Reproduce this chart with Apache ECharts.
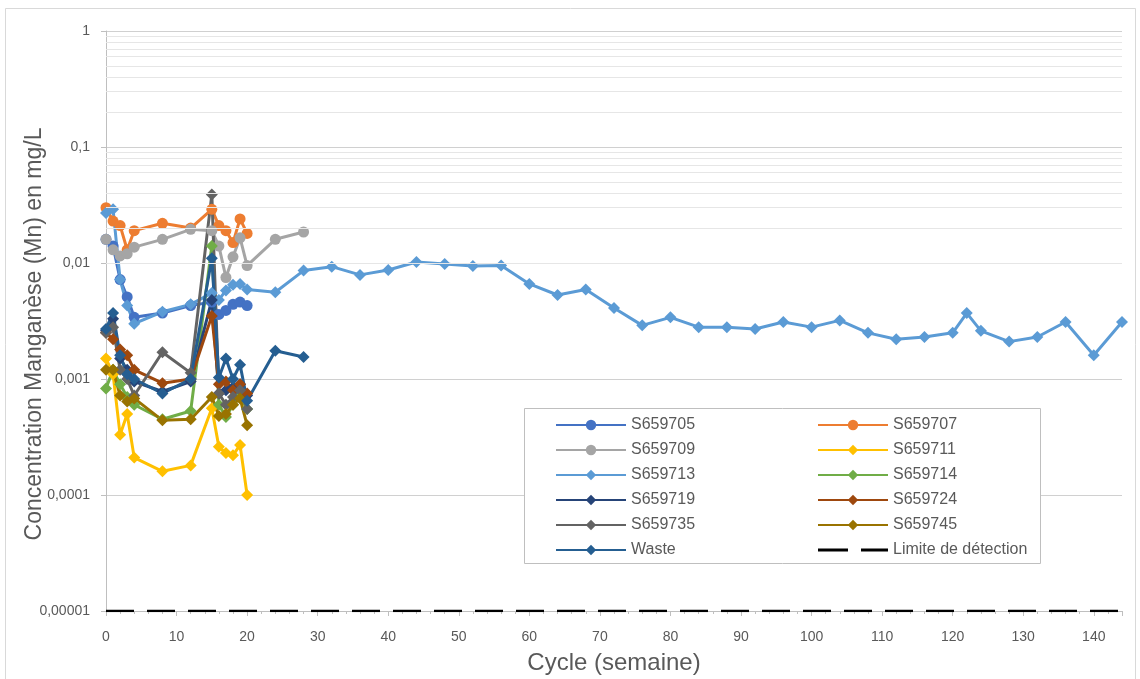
<!DOCTYPE html>
<html>
<head>
<meta charset="utf-8">
<script src="https://cdn.jsdelivr.net/npm/echarts@6/dist/echarts.min.js"></script>
<style>
  html, body { margin: 0; padding: 0; background: #fff; }
  #chart { width: 1140px; height: 679px; }
</style>
</head>
<body>
<div id="chart"></div>
<script>
// Sampling weeks (cycles)
const cyclesEarly = [0, 1, 2, 3, 4, 8, 12, 15, 16, 17, 18, 19, 20];
const cyclesTo28 = cyclesEarly.concat([24, 28]);
const cyclesLong = cyclesTo28.concat([32, 36, 40, 44, 48, 52, 56, 60, 64, 68, 72, 76, 80, 84, 88, 92, 96, 100, 104, 108, 112, 116, 120, 122, 124, 128, 132, 136, 140, 144]);

// Manganese concentration (mg/L) per sample
const s659705 = [0.016, 0.014, 0.0072, 0.0051, 0.0034, 0.0037, 0.0043, 0.0046, 0.0036, 0.0039, 0.0044, 0.0046, 0.0043];
const s659707 = [0.030, 0.023, 0.021, 0.013, 0.019, 0.022, 0.020, 0.029, 0.021, 0.019, 0.015, 0.024, 0.018];
const s659709 = [0.016, 0.013, 0.0115, 0.012, 0.0137, 0.016, 0.0195, 0.019, 0.014, 0.0075, 0.0113, 0.0165, 0.0095, 0.016, 0.0185];
const s659711 = [0.0015, 0.0011, 0.00033, 0.0005, 0.00021, 0.00016, 0.00018, 0.00056, 0.00026, 0.00023, 0.00022, 0.00027, 0.0001];
const s659713 = [0.027, 0.029, 0.0072, 0.0043, 0.0030, 0.0038, 0.0044, 0.0055, 0.0048, 0.0058, 0.0065, 0.0066, 0.0059,
  0.0056, 0.0086, 0.0093, 0.0079, 0.0087, 0.0102, 0.0098, 0.0094, 0.0095, 0.0066, 0.0053, 0.0059, 0.0041, 0.0029,
  0.0034, 0.0028, 0.0028, 0.0027, 0.0031, 0.0028, 0.0032, 0.0025, 0.0022, 0.0023, 0.0025, 0.0037, 0.0026, 0.0021,
  0.0023, 0.0031, 0.0016, 0.0031];
const s659714 = [0.00083, 0.0012, 0.0009, 0.0007, 0.0006, 0.00045, 0.00053, 0.014, 0.0006, 0.00047, 0.0006, 0.0007, 0.00055];
const s659719 = [0.0026, 0.0033, 0.0015, 0.0012, 0.00095, 0.00078, 0.00095, 0.0048, 0.00075, 0.0008, 0.00085, 0.0009, 0.00072];
const s659724 = [0.0025, 0.0022, 0.0018, 0.0016, 0.0012, 0.00092, 0.001, 0.0035, 0.0009, 0.00095, 0.0008, 0.0009, 0.00075];
const s659735 = [0.0025, 0.0028, 0.0012, 0.001, 0.00072, 0.0017, 0.00113, 0.039, 0.00075, 0.0006, 0.0007, 0.0008, 0.00055];
const s659745 = [0.0012, 0.0012, 0.00072, 0.00064, 0.00068, 0.00044, 0.00045, 0.0007, 0.00048, 0.0005, 0.0006, 0.00068, 0.0004];
const waste = [0.0027, 0.0037, 0.0016, 0.0011, 0.001, 0.00075, 0.001, 0.011, 0.00103, 0.0015, 0.001, 0.00133, 0.00065, 0.00175, 0.00155];

// Detection limit (mg/L) across the whole period
const detectionLimit = 0.00001;
const detectionSpan = [0, 144];

// Y tick labels, one per decade from 1e-5 to 1
const yTickLabels = ['0,00001', '0,0001', '0,001', '0,01', '0,1', '1'];
// Intermediate log gridlines (2..9 x each decade)
const minorGridValues = [];
for (let e = -5; e < 0; e++) {
  for (let k = 2; k <= 9; k++) minorGridValues.push(k * Math.pow(10, e));
}

const FONT = 'Liberation Sans';
const TXT = '#595959';

function pairs(xs, ys) { return ys.map((v, i) => [xs[i], v]); }

function lineSeries(name, xs, ys, color, symbol) {
  return {
    name: name,
    type: 'line',
    data: pairs(xs, ys),
    symbol: symbol,
    symbolSize: symbol === 'circle' ? 11 : 12,
    lineStyle: { color: color, width: 3 },
    itemStyle: { color: color },
    z: 3,
    animation: false
  };
}

const seriesDefs = [
  ['S659705', cyclesEarly, s659705, '#4472C4', 'circle'],
  ['S659707', cyclesEarly, s659707, '#ED7D31', 'circle'],
  ['S659709', cyclesTo28, s659709, '#A5A5A5', 'circle'],
  ['S659711', cyclesEarly, s659711, '#FFC000', 'diamond'],
  ['S659713', cyclesLong, s659713, '#5B9BD5', 'diamond'],
  ['S659714', cyclesEarly, s659714, '#70AD47', 'diamond'],
  ['S659719', cyclesEarly, s659719, '#264478', 'diamond'],
  ['S659724', cyclesEarly, s659724, '#9E480E', 'diamond'],
  ['S659735', cyclesEarly, s659735, '#636363', 'diamond'],
  ['S659745', cyclesEarly, s659745, '#997300', 'diamond'],
  ['Waste', cyclesTo28, waste, '#255E91', 'diamond']
];

const series = [{
  name: 'grid-minor',
  type: 'line',
  data: [],
  z: 1,
  silent: true,
  animation: false,
  markLine: {
    silent: true,
    symbol: 'none',
    label: { show: false },
    lineStyle: { color: '#E6E6E6', width: 1, type: 'solid' },
    data: minorGridValues.map(v => ({ yAxis: v })),
    animation: false
  }
}];
seriesDefs.forEach(d => series.push(lineSeries(d[0], d[1], d[2], d[3], d[4])));
series.push({
  name: 'Limite de détection',
  type: 'line',
  data: detectionSpan.map(x => [x, detectionLimit]),
  symbol: 'none',
  lineStyle: { color: '#000000', width: 2.5, type: [28, 13] },
  itemStyle: { color: '#000000' },
  z: 4,
  animation: false
});

// Dashed legend key for the detection limit (two bars in a 70x13 box)
const dashedKey = 'path://M0,0H0.01V0.01H0Z M69.99,12.99H70V13H69.99Z M0,5H30V8H0Z M43,5H70V8H43Z';

const legendCommon = {
  orient: 'vertical',
  top: 412,
  z: 10,
  itemWidth: 70,
  itemHeight: 13,
  itemGap: 9,
  symbolKeepAspect: false,
  textStyle: { color: TXT, fontSize: 16, fontFamily: FONT },
  selectedMode: false
};

const option = {
  backgroundColor: '#ffffff',
  animation: false,
  textStyle: { fontFamily: FONT },
  grid: { left: 106, top: 31, right: 18, bottom: 68, containLabel: false, outerBoundsMode: 'none' },
  xAxis: {
    type: 'value',
    min: 0,
    max: 144,
    interval: 10,
    name: 'Cycle (semaine)',
    nameLocation: 'middle',
    nameGap: 40,
    nameTextStyle: { color: TXT, fontSize: 24, fontFamily: FONT },
    axisLine: { show: true, lineStyle: { color: '#BFBFBF', width: 1 } },
    axisTick: { show: true, length: 5, lineStyle: { color: '#BFBFBF' } },
    minorTick: { show: true, splitNumber: 5, length: 3, lineStyle: { color: '#BFBFBF' } },
    axisLabel: { color: TXT, fontSize: 14, fontFamily: FONT, margin: 19, showMaxLabel: false },
    splitLine: { show: false }
  },
  yAxis: {
    type: 'log',
    logBase: 10,
    min: 0.00001,
    max: 1,
    name: 'Concentration Manganèse (Mn) en mg/L',
    nameLocation: 'middle',
    nameGap: 60,
    nameMoveOverlap: false,
    nameTextStyle: { color: TXT, fontSize: 23, fontFamily: FONT, padding: [0, 26, 0, 0] },
    axisLine: { show: true, lineStyle: { color: '#BFBFBF', width: 1 } },
    axisTick: { show: true, length: 5, lineStyle: { color: '#BFBFBF' } },
    axisLabel: {
      color: TXT, fontSize: 14, fontFamily: FONT, margin: 16,
      formatter: v => yTickLabels[Math.round(Math.log10(v)) + 5]
    },
    splitLine: { show: true, lineStyle: { color: '#D0D0D0', width: 1 } }
  },
  legend: [
    Object.assign({ left: 550, data: ['S659705', 'S659709', 'S659713', 'S659719', 'S659735', 'Waste'] }, legendCommon),
    Object.assign({ left: 812, data: ['S659707', 'S659711', 'S659714', 'S659724', 'S659745',
      { name: 'Limite de détection', icon: dashedKey, itemStyle: { color: '#000000' } }] }, legendCommon)
  ],
  graphic: [
    {
      type: 'rect',
      z: 0,
      shape: { x: 5.5, y: 8.5, width: 1130, height: 700 },
      style: { fill: 'none', stroke: '#D9D9D9', lineWidth: 1 },
      silent: true
    },
    {
      type: 'rect',
      z: 5,
      shape: { x: 524.5, y: 408.5, width: 516, height: 155 },
      style: { fill: '#ffffff', stroke: '#BFBFBF', lineWidth: 1 },
      silent: true
    }
  ],
  series: series
};

const chart = echarts.init(document.getElementById('chart'), null, { renderer: 'canvas' });
chart.setOption(option);
</script>
</body>
</html>
